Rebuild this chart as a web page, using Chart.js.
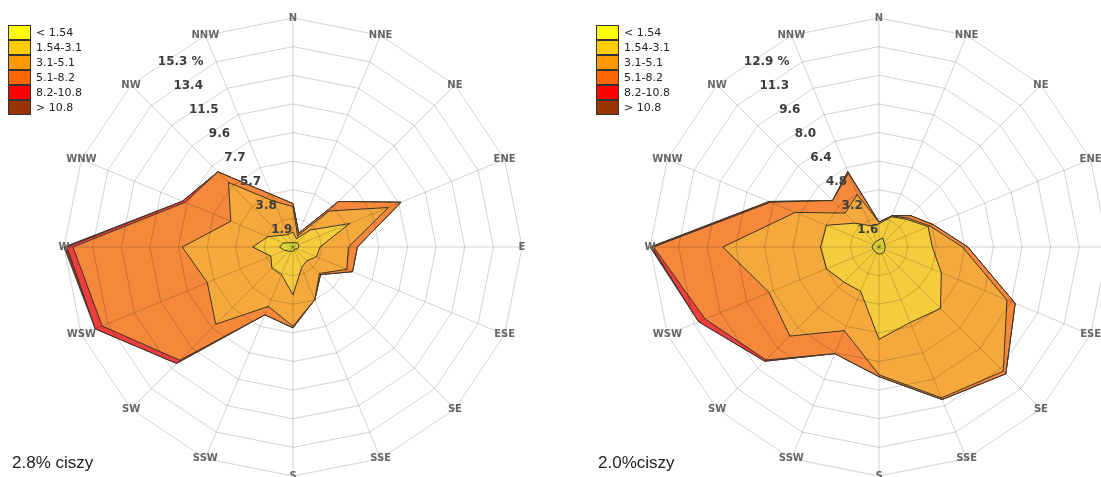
<!DOCTYPE html>
<html>
<head>
<meta charset="utf-8">
<script src="https://cdn.jsdelivr.net/npm/chart.js@4.4.1/dist/chart.umd.min.js"></script>
<style>
  html, body { margin:0; padding:0; background:#fff; width:1101px; height:477px; overflow:hidden; }
  .rose { position:absolute; top:0; width:600px; height:477px; }
  .legend { position:absolute; top:25px; font:11px "DejaVu Sans", Verdana, sans-serif; color:#222; }
  .legend .row { height:15px; line-height:15px; white-space:nowrap; }
  .legend .box { display:inline-block; width:21px; height:13px; border:1px solid #333; vertical-align:top; margin-right:5px; box-sizing:content-box; }
  .calm { position:absolute; top:453px; font:17px "Liberation Sans", Arial, sans-serif; color:#222; }
</style>
</head>
<body>
<div class="rose" style="left:0"><canvas id="roseA"></canvas></div>
<div class="rose" style="left:586px"><canvas id="roseB"></canvas></div>
<div class="legend" id="legA" style="left:8px"></div>
<div class="legend" id="legB" style="left:596px"></div>
<div class="calm" style="left:12px">2.8% ciszy</div>
<div class="calm" style="left:598px">2.0%ciszy</div>
<script>
const DIRS = ['N','NNE','NE','ENE','E','ESE','SE','SSE','S','SSW','SW','WSW','W','WNW','NW','NNW'];
const CLASSES = ['< 1.54','1.54-3.1','3.1-5.1','5.1-8.2','8.2-10.8','> 10.8'];
const LEGEND_COLORS = ['#ffff00','#ffcc00','#ff9900','#ff6600','#ff0000','#993300'];
const FILL_COLORS = ['#e6e33c','#f5cd3c','#f5a93c','#f5883a','#ef3c3c','#8a3a1a'];

// chart A (left) - cumulative % per speed class, N..NNW
const A_MAX = 15.3;
const A_TICKS = ['1.9','3.8','5.7','7.7','9.6','11.5','13.4','15.3 %'];
const A_C1 = [0.3,0.3,0.4,0.4,0.4,0.3,0.2,0.2,0.3,0.3,0.4,0.6,0.9,0.7,0.4,0.3];
const A_C2 = [1.0,0.6,1.6,4.1,1.8,1.7,1.3,1.5,3.2,2.0,2.0,1.6,2.7,1.8,1.1,0.9];
const A_C3 = [2.7,0.8,3.4,6.9,3.7,3.9,2.5,3.8,5.3,4.3,7.3,6.2,7.4,4.5,6.1,3.3];
const A_C4 = [2.9,1.0,4.3,7.8,4.3,4.3,2.6,3.8,5.4,4.9,10.7,13.8,14.7,7.8,7.1,3.8];
const A_C5 = [2.9,1.0,4.3,7.8,4.3,4.3,2.6,3.8,5.4,4.9,11.0,14.3,15.1,8.0,7.1,3.8];
const A_C6 = [2.9,1.0,4.3,7.8,4.3,4.3,2.6,3.8,5.4,4.9,11.0,14.3,15.3,8.0,7.1,3.8];

// chart B (right)
const B_MAX = 12.9;
const B_TICKS = ['1.6','3.2','4.8','6.4','8.0','9.6','11.3','12.9 %'];
const B_C1 = [0.4,0.55,0.4,0.35,0.35,0.35,0.4,0.4,0.4,0.35,0.35,0.35,0.4,0.35,0.35,0.35];
const B_C2 = [1.3,1.85,2.2,3.0,3.0,3.8,4.9,4.6,5.2,2.7,2.8,3.2,3.3,3.2,1.9,1.3];
const B_C3 = [1.4,1.9,2.3,3.1,4.7,7.8,9.9,9.2,7.2,5.1,7.1,6.7,8.8,5.1,2.7,3.2];
const B_C4 = [1.4,1.9,2.5,3.3,5.0,8.3,10.1,9.3,7.3,6.5,9.0,10.6,12.7,6.6,3.7,4.5];
const B_C5 = [1.4,1.9,2.5,3.3,5.0,8.3,10.1,9.3,7.3,6.5,9.1,11.0,12.8,6.7,3.7,4.6];
const B_C6 = [1.4,1.9,2.5,3.3,5.0,8.3,10.1,9.3,7.3,6.5,9.1,11.0,12.9,6.7,3.7,4.6];

let gridPass = false;
const GRID = '#d2d2d2';

const overlay = {
  id: 'overlay',
  afterDatasetsDraw(chart, args, opts) {
    const s = chart.scales.r, ctx = chart.ctx;
    // grid over the fills (multiply so it darkens the colour underneath)
    ctx.save();
    ctx.globalCompositeOperation = 'multiply';
    gridPass = true;
    s.drawGrid();
    gridPass = false;
    ctx.restore();

    ctx.save();
    ctx.font = 'bold 12px "DejaVu Sans", Verdana, sans-serif';
    ctx.fillStyle = '#3c3c3c';
    ctx.textBaseline = 'middle';
    ctx.textAlign = 'left';
    const a = -33 * Math.PI / 180;
    opts.ticks.forEach((t, i) => {
      const r = s.getDistanceFromCenterForValue((i + 1) * opts.max / 8) - 8;
      const x = s.xCenter + r * Math.sin(a), y = s.yCenter - r * Math.cos(a);
      const w = ctx.measureText(t.split(' ')[0]).width;
      ctx.fillText(t, x - w / 2, y);
    });
    ctx.font = 'bold 10px "DejaVu Sans", Verdana, sans-serif';
    ctx.fillStyle = '#666';
    ctx.textAlign = 'center';
    DIRS.forEach((d, i) => {
      const p = s.getPointPosition(i, s.drawingArea);
      ctx.fillText(d, p.x, p.y);
    });
    ctx.restore();
  }
};

function mkRose(id, layers, max, ticks) {
  new Chart(document.getElementById(id), {
    type: 'radar',
    data: {
      labels: DIRS,
      datasets: layers.map((data, i) => ({
        label: CLASSES[i], data,
        backgroundColor: FILL_COLORS[i], borderColor: '#3d3428', borderWidth: 1,
        fill: 'origin', pointRadius: 0, tension: 0
      }))
    },
    options: {
      responsive: true, maintainAspectRatio: false, animation: false,
      layout: { padding: { left:64, right:78, top:18, bottom:1 } },
      plugins: { legend: { display:false }, tooltip: { enabled:false }, overlay: { max, ticks } },
      scales: {
        r: {
          min: 0, max,
          afterBuildTicks: sc => { sc.ticks = [0,1,2,3,4,5,6,7,8].map(k => ({ value: k * max / 8 })); },
          ticks: { display:false },
          pointLabels: { display:false },
          grid: { color: () => gridPass ? GRID : 'rgba(0,0,0,0)', lineWidth: 1 },
          angleLines: { color: () => gridPass ? GRID : 'rgba(0,0,0,0)', lineWidth: 1 }
        }
      }
    },
    plugins: [overlay]
  });
}

function mkLegend(id) {
  document.getElementById(id).innerHTML = CLASSES.map((c, i) =>
    `<div class="row"><span class="box" style="background:${LEGEND_COLORS[i]}"></span>${c.replace('<','&lt;').replace('>','&gt;')}</div>`).join('');
}

mkRose('roseA', [A_C1, A_C2, A_C3, A_C4, A_C5, A_C6], A_MAX, A_TICKS);
mkRose('roseB', [B_C1, B_C2, B_C3, B_C4, B_C5, B_C6], B_MAX, B_TICKS);
mkLegend('legA');
mkLegend('legB');
</script>
</body>
</html>
